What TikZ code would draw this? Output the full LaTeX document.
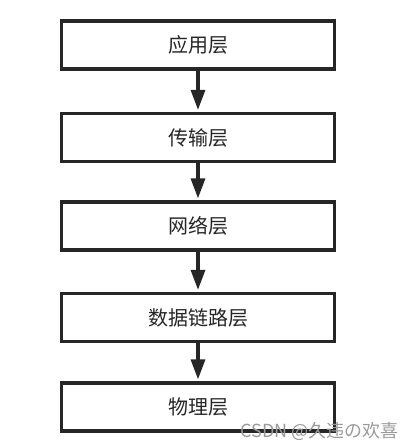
\documentclass[tikz,border=0pt]{standalone}
\usepackage{fontspec}
\newfontfamily\cjk{Noto Sans CJK SC}
\usetikzlibrary{arrows.meta}
\definecolor{edge}{HTML}{262626}
\definecolor{wm}{HTML}{9A9A9A}
\begin{document}
\begin{tikzpicture}[x=1pt,y=-1pt,
  layer/.style={draw=edge, line width=3.2pt, fill=white, minimum width=273pt, minimum height=48pt, inner sep=0pt, font=\cjk\fontsize{20}{20}\selectfont, text=black!85},
  flow/.style={draw=edge, line width=3.2pt, -{Triangle[length=20pt,width=14pt]}, shorten >=2pt}]
\useasboundingbox (0,0) rectangle (415,448);
\node[layer] (a) at (198,45) {应用层};
\node[layer] (b) at (198,137.5) {传输层};
\node[layer] (c) at (198,226) {网络层};
\node[layer] (d) at (198,317.5) {数据链路层};
\node[layer] (e) at (198,407) {物理层};
\draw[flow] (a) -- (b);
\draw[flow] (b) -- (c);
\draw[flow] (c) -- (d);
\draw[flow] (d) -- (e);
\node[anchor=base east, inner sep=0pt, text=wm, font=\cjk\fontsize{18}{18}\selectfont] (w) at (399,437) {CSDN @久违の欢喜};
\end{tikzpicture}
\end{document}
